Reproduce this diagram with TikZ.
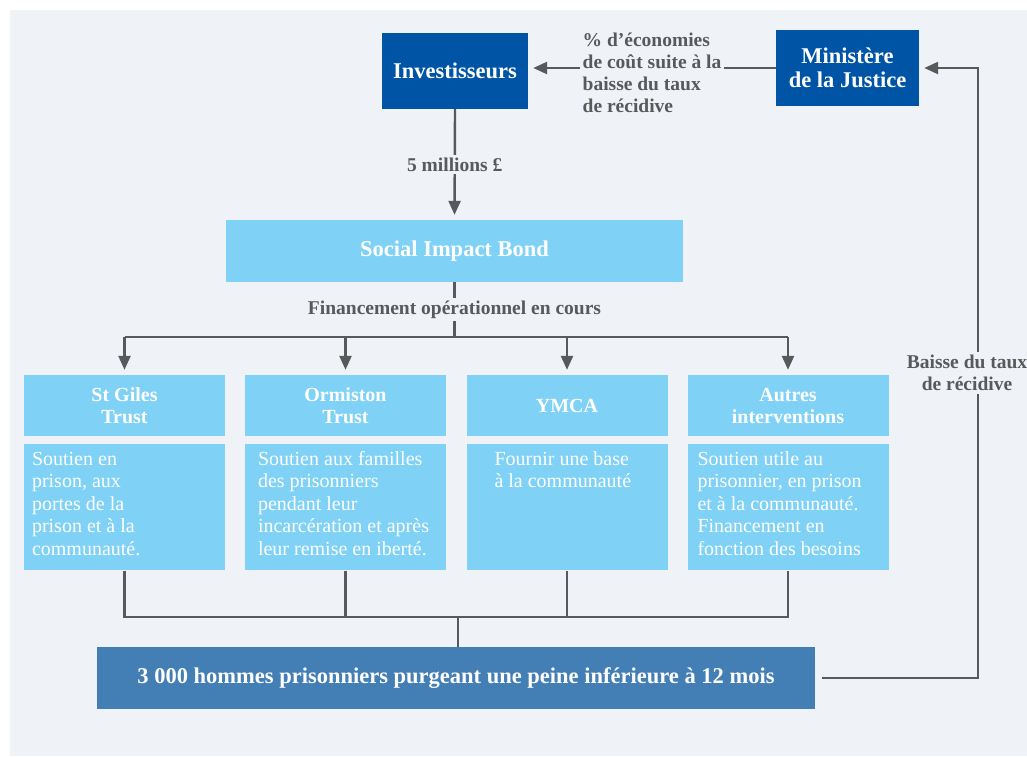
\documentclass[tikz,border=0pt]{standalone}
\usepackage{fontspec}
\setmainfont{Liberation Serif}
\usetikzlibrary{positioning,arrows.meta}

\definecolor{sfondo}{RGB}{239,242,246}
\definecolor{bludark}{RGB}{0,84,166}
\definecolor{blulight}{RGB}{127,210,246}
\definecolor{blumedio}{RGB}{67,126,180}
\definecolor{grigio}{RGB}{88,89,91}

% testo allineato in alto nei box descrittivi
\newcommand{\testodesc}[2]{\parbox[c][126pt][t]{201pt}{\raggedright\leftskip=#1pt\relax\rule{0pt}{21pt}#2}}

\tikzset{
  bluebox/.style={fill=bludark, text=white, align=center, inner sep=0pt,
    font=\fontsize{22.5}{24}\selectfont\bfseries},
  bondbox/.style={fill=blulight, text=white, inner sep=0pt,
    font=\fontsize{22.5}{24}\selectfont\bfseries},
  trustbox/.style={fill=blulight, text=white, align=center, inner sep=0pt,
    minimum width=201pt, minimum height=61pt,
    font=\fontsize{20}{22}\selectfont\bfseries},
  descbox/.style={fill=blulight, text=white, inner sep=0pt,
    minimum width=201pt, minimum height=126pt,
    font=\fontsize{20}{22.5}\selectfont},
  basebox/.style={fill=blumedio, text=white, inner sep=0pt,
    font=\fontsize{22.5}{24}\selectfont\bfseries},
  etichetta/.style={fill=sfondo, text=grigio, inner sep=3pt,
    font=\fontsize{19.5}{22}\selectfont\bfseries},
  linea/.style={draw=grigio, line width=2.4pt},
  freccia/.style={linea, -{Triangle[length=14pt,width=12pt]}, shorten >=5pt},
}

\begin{document}
\begin{tikzpicture}[x=1pt, y=-1pt]
    % Sfondo
    \useasboundingbox (0,0) rectangle (1027,756);
    \fill[sfondo] (10,10) rectangle (1027,756);

    % Attori principali
    \node[bluebox, minimum width=146pt, minimum height=76pt] (inv) at (455,71) {Investisseurs};
    \node[bluebox, minimum width=143pt, minimum height=76pt] (min) at (847.5,68) {Ministère\\de la Justice};
    \node[bondbox, minimum width=457pt, minimum height=62pt] (sib) at (454.5,251) {Social Impact Bond};

    % Trust + descrizioni
    \foreach \n/\x/\titolo in {1/124.5/{St Giles\\Trust}, 2/345.5/{Ormiston\\Trust}, 3/567/YMCA, 4/788/{Autres\\interventions}}{
        \node[trustbox] (t\n) at (\x,405.5) {\titolo};
    }
    \foreach \n/\pad/\testo in {1/8/{Soutien en\\prison, aux\\portes de la\\prison et à la\\communauté.},
                                2/13/{Soutien aux familles\\des prisonniers\\pendant leur\\incarcération et après\\leur remise en iberté.},
                                3/28/{Fournir une base\\à la communauté},
                                4/10/{Soutien utile au\\prisonnier, en prison\\et à la communauté.\\Financement en\\fonction des besoins}}{
        \node[descbox, below=8pt of t\n] (d\n) {\testodesc{\pad}{\testo}};
    }

    % Box finale
    \node[basebox, minimum width=718pt, minimum height=62pt] (pris) at (456,678) {3 000 hommes prisonniers purgeant une peine inférieure à 12 mois};

    % Flussi in alto
    \draw[freccia] (min.west) -- node[etichetta, align=left, yshift=-5pt]{\% d’économies\\de coût suite à la\\baisse du taux\\de récidive} (min.west -| inv.east);
    \draw[freccia] (inv.south) -- node[etichetta]{5 millions £} (sib.north);

    % Diramazione verso i trust
    \coordinate (split) at (454.5,337);
    \draw[linea] (sib.south) -- node[etichetta]{Financement opérationnel en cours} (split);
    \draw[linea] (t1.north |- split) -- (t4.north |- split);
    \foreach \n in {1,...,4}{
        \draw[freccia] (t\n.north |- split) -- (t\n.north);
    }

    % Raccordo verso i prigionieri
    \coordinate (unione) at (458,617);
    \draw[linea] (d1.south) -- (d1.south |- unione) -- (d4.south |- unione) -- (d4.south);
    \foreach \n in {2,3}{
        \draw[linea] (d\n.south) -- (d\n.south |- unione);
    }
    \draw[linea] (unione) -- (unione |- pris.north);

    % Ritorno al Ministero
    \coordinate (ritorno) at (978,68);
    \draw[freccia, shorten <=7pt] (pris.east) -| node[etichetta, pos=0.75, xshift=-11pt, align=center]{Baisse du taux\\de récidive} (ritorno) -- (min.east);
\end{tikzpicture}
\end{document}
